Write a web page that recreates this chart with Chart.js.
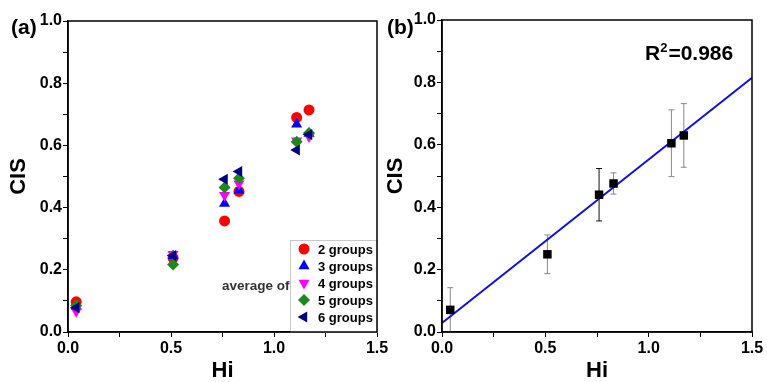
<!DOCTYPE html>
<html>
<head>
<meta charset="utf-8">
<script src="https://cdn.jsdelivr.net/npm/chart.js@4.4.0/dist/chart.umd.min.js"></script>
<style>
  body { margin: 0; background: #fff; }
  #wrap { position: relative; width: 767px; height: 382px; overflow: hidden; }
  canvas { position: absolute; top: 0; }
  #chartA { left: 0; }
  #chartB { left: 380px; }
</style>
</head>
<body>
<div id="wrap">
  <canvas id="chartA" width="400" height="382"></canvas>
  <canvas id="chartB" width="387" height="382"></canvas>
</div>
<script>
// panel (a) data
const hiValues = [0.04, 0.51, 0.76, 0.83, 1.11, 1.17];
const groupNames = ['2 groups', '3 groups', '4 groups', '5 groups', '6 groups'];
const cis2 = [0.097, 0.238, 0.357, 0.452, 0.690, 0.714];
const cis3 = [0.082, 0.245, 0.413, 0.456, 0.668, 0.638];
const cis4 = [0.066, 0.250, 0.440, 0.477, 0.615, 0.628];
const cis5 = [0.085, 0.217, 0.465, 0.494, 0.612, 0.640];
const cis6 = [0.078, 0.246, 0.491, 0.516, 0.585, 0.635];

// panel (b) data
const cisMean = [0.071, 0.249, 0.440, 0.476, 0.605, 0.630];
const cisErr = [0.071, 0.062, 0.084, 0.034, 0.107, 0.102];
const fitX = [0, 1.5];
const fitY = [0.029, 0.815];
const rSquared = '0.986';

const FONT = '"Liberation Sans", Arial, sans-serif';

function pts(xs, ys) {
    return xs.map(function(x, i) { return {x: x, y: ys[i]}; });
}

function makeScales(yTitlePad) {
    return {
        x: {
            type: 'linear', min: 0, max: 1.5,
            afterFit: function(s) { s.height = 50; },
            border: { color: '#000', width: 1.5 },
            grid: { drawOnChartArea: false, drawTicks: true, tickLength: 5, tickColor: '#000', tickWidth: 1 },
            ticks: {
                stepSize: 0.25, padding: 2, color: '#000', maxRotation: 0, autoSkip: false,
                font: { family: FONT, size: 16, weight: 'bold' },
                callback: function(v) { return Math.round(v * 4) % 2 === 0 ? v.toFixed(1) : ''; }
            },
            title: { display: true, text: 'Hi', color: '#000', padding: { top: 0, bottom: 0 },
                     font: { family: FONT, size: 22, weight: 'bold', lineHeight: 1 } }
        },
        y: {
            type: 'linear', min: 0, max: 1.0,
            afterFit: function(s) { s.width = yTitlePad.width; },
            border: { color: '#000', width: 1.5 },
            grid: { drawOnChartArea: false, drawTicks: true, tickLength: 5, tickColor: '#000', tickWidth: 1 },
            ticks: {
                stepSize: 0.1, padding: 1, color: '#000', autoSkip: false,
                font: { family: FONT, size: 16, weight: 'bold' },
                callback: function(v) { return Math.round(v * 10) % 2 === 0 ? v.toFixed(1) : ''; }
            },
            title: { display: true, text: 'CIS', color: '#000', padding: { top: yTitlePad.pad, bottom: 0 },
                     font: { family: FONT, size: 22, weight: 'bold', lineHeight: 1 } }
        }
    };
}

// box around the plot plus the panel letter
function framePlugin(letter, letterX) {
    return {
        id: 'frame',
        afterDraw: function(chart) {
            const ctx = chart.ctx, a = chart.chartArea;
            ctx.save();
            ctx.strokeStyle = '#000';
            ctx.lineWidth = 1.5;
            ctx.strokeRect(a.left, a.top, a.right - a.left, a.bottom - a.top);
            ctx.fillStyle = '#000';
            ctx.font = 'bold 21px ' + FONT;
            ctx.textBaseline = 'middle';
            ctx.textAlign = 'left';
            ctx.fillText(letter, letterX, 28);
            ctx.restore();
        }
    };
}

const legendPlugin = {
    id: 'insideLegend',
    afterDraw: function(chart) {
        const ctx = chart.ctx, a = chart.chartArea;
        ctx.save();
        ctx.fillStyle = '#333';
        ctx.font = 'bold 13.5px ' + FONT;
        ctx.textBaseline = 'middle';
        ctx.textAlign = 'left';
        ctx.fillText('average of', 222, 286);
        const bx = 290, by = 240;
        ctx.fillStyle = '#fff';
        ctx.fillRect(bx, by, a.right - bx, a.bottom - by);
        ctx.strokeStyle = '#c8c8c8';
        ctx.lineWidth = 1;
        ctx.strokeRect(bx + 0.5, by + 0.5, a.right - bx, a.bottom - by);
        chart.data.datasets.forEach(function(ds, i) {
            const y = 249 + i * 17;
            ctx.fillStyle = ds.backgroundColor;
            ctx.strokeStyle = ds.backgroundColor;
            Chart.helpers.drawPoint(ctx, {
                pointStyle: ds.pointStyle, rotation: ds.rotation || 0,
                radius: ds.pointRadius, borderWidth: 0
            }, 304, y);
            ctx.fillStyle = '#000';
            ctx.font = 'bold 13px ' + FONT;
            ctx.fillText(ds.label, 318, y + 1);
        });
        ctx.restore();
    }
};

const colors = ['#ff0000', '#0000ff', '#ff00ff', '#1b8a1b', '#000080'];
const styles = ['circle', 'triangle', 'triangle', 'rectRot', 'triangle'];
const rotations = [0, 0, 180, 0, -90];
const radii = [5.5, 6.4, 6.4, 6, 6.4];
const seriesA = [cis2, cis3, cis4, cis5, cis6];

new Chart(document.getElementById('chartA'), {
    type: 'scatter',
    data: {
        datasets: seriesA.map(function(vals, i) {
            return {
                label: groupNames[i],
                data: pts(hiValues, vals),
                backgroundColor: colors[i],
                borderColor: colors[i],
                borderWidth: 0,
                pointStyle: styles[i],
                rotation: rotations[i],
                pointRadius: radii[i],
                order: 5 - i
            };
        })
    },
    options: {
        responsive: false,
        animation: false,
        layout: { padding: { top: 21, right: 23, left: 0, bottom: 0 } },
        plugins: { legend: { display: false }, tooltip: { enabled: false } },
        scales: makeScales({ width: 68, pad: 8 })
    },
    plugins: [legendPlugin, framePlugin('(a)', 11)]
});

const errorBarPlugin = {
    id: 'errorBars',
    beforeDatasetsDraw: function(chart) {
        const ctx = chart.ctx, xs = chart.scales.x, ys = chart.scales.y, a = chart.chartArea;
        ctx.save();
        ctx.beginPath();
        ctx.rect(a.left, a.top, a.right - a.left, a.bottom - a.top);
        ctx.clip();
        ctx.lineWidth = 1;
        hiValues.forEach(function(h, i) {
            const px = xs.getPixelForValue(h);
            const top = ys.getPixelForValue(cisMean[i] + cisErr[i]);
            const bot = ys.getPixelForValue(cisMean[i] - cisErr[i]);
            ctx.strokeStyle = i === 2 ? '#111' : '#888';
            ctx.beginPath();
            ctx.moveTo(px, top); ctx.lineTo(px, bot);
            ctx.moveTo(px - 3, top); ctx.lineTo(px + 3, top);
            ctx.moveTo(px - 3, bot); ctx.lineTo(px + 3, bot);
            ctx.stroke();
        });
        ctx.restore();
    }
};

const rSquaredPlugin = {
    id: 'rSquared',
    afterDraw: function(chart) {
        const ctx = chart.ctx;
        ctx.save();
        ctx.fillStyle = '#000';
        ctx.textBaseline = 'alphabetic';
        ctx.textAlign = 'left';
        let x = 265;
        const base = 60;
        ctx.font = 'bold 21px ' + FONT;
        ctx.fillText('R', x, base);
        x += ctx.measureText('R').width;
        ctx.font = 'bold 13px ' + FONT;
        ctx.fillText('2', x, base - 8);
        x += ctx.measureText('2').width + 1;
        ctx.font = 'bold 21px ' + FONT;
        ctx.fillText('=' + rSquared, x, base);
        ctx.restore();
    }
};

new Chart(document.getElementById('chartB'), {
    type: 'scatter',
    data: {
        datasets: [{
            label: 'mean',
            data: pts(hiValues, cisMean),
            backgroundColor: '#000',
            borderColor: '#000',
            borderWidth: 0,
            pointStyle: 'rect',
            pointRadius: 6,
            order: 0
        }, {
            label: 'fit',
            data: pts(fitX, fitY),
            showLine: true,
            borderColor: '#1010e0',
            borderWidth: 2,
            pointRadius: 0,
            order: 1
        }]
    },
    options: {
        responsive: false,
        animation: false,
        layout: { padding: { top: 20, right: 15, left: 0, bottom: 0 } },
        plugins: { legend: { display: false }, tooltip: { enabled: false } },
        scales: makeScales({ width: 62, pad: 5 })
    },
    plugins: [errorBarPlugin, rSquaredPlugin, framePlugin('(b)', 7)]
});
</script>
</body>
</html>
